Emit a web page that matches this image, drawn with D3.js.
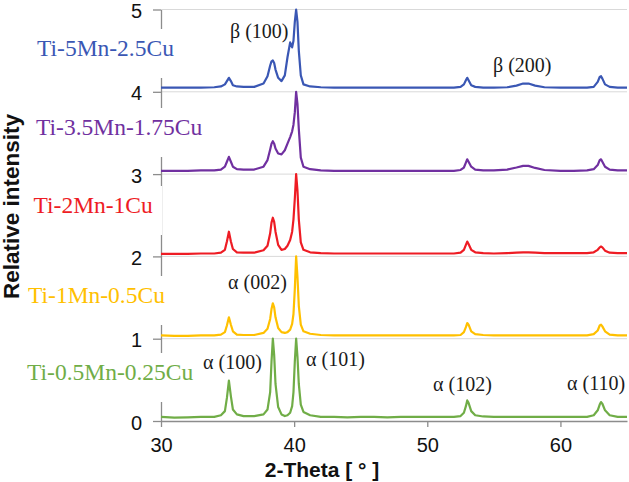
<!DOCTYPE html>
<html>
<head>
<meta charset="utf-8">
<script src="https://cdn.jsdelivr.net/npm/d3@7"></script>
<style>
  html, body { margin: 0; padding: 0; background: #fff; }
  svg { display: block; }
</style>
</head>
<body>
<svg id="chart" width="629" height="482"></svg>
<script>
// ---------- DATA ----------
const twoTheta = [30, 31, 32, 33, 34, 34.5, 34.8, 34.95, 35.1, 35.25, 35.4, 35.7, 36.2,
  37, 37.7, 38.0, 38.2, 38.3, 38.4, 38.5, 38.6, 38.8,
  39.05, 39.3, 39.5, 39.7, 39.85, 39.95, 40.05, 40.15, 40.25, 40.35, 40.5, 40.7,
  41.2, 42, 43, 44, 45, 46, 47, 48, 49, 50, 51, 52,
  52.5, 52.75, 52.9, 53.0, 53.1, 53.3, 53.6, 54.2,
  55, 56, 56.7, 57.2, 57.6, 58.1, 58.8,
  60, 61, 62, 62.5, 62.8, 62.95, 63.05, 63.15, 63.35, 63.7, 64.3, 65];

const ti05Mn = [0.05, 0.04, 0.045, 0.05, 0.05, 0.07, 0.12, 0.28, 0.49, 0.3, 0.14, 0.08, 0.06,
  0.06, 0.08, 0.14, 0.35, 0.72, 1.0, 0.8, 0.45, 0.17,
  0.08, 0.06, 0.07, 0.1, 0.18, 0.35, 0.72, 1.0, 0.78, 0.45, 0.2, 0.11,
  0.07, 0.05, 0.05, 0.045, 0.05, 0.05, 0.045, 0.05, 0.05, 0.05, 0.05, 0.05,
  0.06, 0.1, 0.18, 0.25, 0.22, 0.12, 0.07, 0.055,
  0.05, 0.05, 0.05, 0.05, 0.05, 0.05, 0.05,
  0.05, 0.05, 0.05, 0.07, 0.13, 0.2, 0.23, 0.21, 0.13, 0.07, 0.05, 0.05];

const ti1Mn = [1.04, 1.035, 1.035, 1.04, 1.04, 1.05, 1.08, 1.16, 1.26, 1.17, 1.09, 1.05, 1.045,
  1.045, 1.07, 1.12, 1.24, 1.36, 1.43, 1.38, 1.26, 1.13,
  1.08, 1.07, 1.08, 1.11, 1.18, 1.3, 1.6, 2.0, 1.75, 1.4, 1.17, 1.09,
  1.06, 1.045, 1.04, 1.04, 1.04, 1.04, 1.04, 1.04, 1.04, 1.04, 1.04, 1.04,
  1.045, 1.08, 1.14, 1.19, 1.17, 1.09, 1.055, 1.045,
  1.04, 1.04, 1.04, 1.04, 1.04, 1.04, 1.04,
  1.04, 1.04, 1.04, 1.055, 1.1, 1.16, 1.17, 1.15, 1.09, 1.05, 1.04, 1.04];

const ti2Mn = [2.03, 2.03, 2.03, 2.035, 2.035, 2.045, 2.08, 2.18, 2.3, 2.18, 2.09, 2.05, 2.045,
  2.045, 2.075, 2.13, 2.28, 2.41, 2.47, 2.42, 2.3, 2.14,
  2.08, 2.09, 2.13, 2.2, 2.3, 2.45, 2.7, 3.0, 2.8, 2.45, 2.17, 2.08,
  2.05, 2.04, 2.035, 2.035, 2.035, 2.035, 2.035, 2.035, 2.035, 2.035, 2.035, 2.035,
  2.045, 2.08, 2.14, 2.18, 2.15, 2.08, 2.05, 2.04,
  2.035, 2.04, 2.045, 2.05, 2.05, 2.045, 2.04,
  2.04, 2.04, 2.04, 2.05, 2.08, 2.11, 2.12, 2.11, 2.07, 2.045, 2.04, 2.04];

const ti35Mn = [3.04, 3.04, 3.04, 3.045, 3.045, 3.055, 3.09, 3.15, 3.21, 3.15, 3.09, 3.06, 3.055,
  3.055, 3.09, 3.17, 3.3, 3.37, 3.4, 3.37, 3.31, 3.25,
  3.24, 3.29, 3.37, 3.45, 3.52, 3.6, 3.75, 4.0, 3.85, 3.55, 3.2, 3.09,
  3.06, 3.045, 3.04, 3.04, 3.04, 3.04, 3.04, 3.04, 3.04, 3.04, 3.04, 3.04,
  3.05, 3.08, 3.14, 3.18, 3.15, 3.09, 3.055, 3.045,
  3.045, 3.055, 3.08, 3.1, 3.1, 3.075, 3.05,
  3.04, 3.04, 3.045, 3.06, 3.11, 3.17, 3.18, 3.15, 3.09, 3.055, 3.045, 3.045];

const ti5Mn = [4.05, 4.05, 4.05, 4.05, 4.055, 4.065, 4.09, 4.13, 4.17, 4.13, 4.08, 4.065, 4.06,
  4.06, 4.1, 4.19, 4.32, 4.37, 4.38, 4.35, 4.27, 4.17,
  4.13, 4.2, 4.42, 4.6, 4.54, 4.62, 4.85, 5.0, 4.85, 4.5, 4.2, 4.09,
  4.065, 4.055, 4.05, 4.05, 4.05, 4.05, 4.05, 4.05, 4.05, 4.05, 4.05, 4.05,
  4.06, 4.09, 4.14, 4.17, 4.14, 4.08, 4.06, 4.05,
  4.05, 4.055, 4.075, 4.1, 4.1, 4.075, 4.055,
  4.05, 4.05, 4.05, 4.06, 4.12, 4.18, 4.19, 4.16, 4.09, 4.06, 4.05, 4.05];

const seriesNames = ["Ti-0.5Mn-0.25Cu", "Ti-1Mn-0.5Cu", "Ti-2Mn-1Cu", "Ti-3.5Mn-1.75Cu", "Ti-5Mn-2.5Cu"];
const seriesValues = [ti05Mn, ti1Mn, ti2Mn, ti35Mn, ti5Mn];
const seriesColors = ["#70ad47", "#ffc000", "#ee1c24", "#7030a0", "#3a57b4"];

const xTicks = [30, 40, 50, 60];
const yTicks = [0, 1, 2, 3, 4, 5];

const peakLabels = ["β (100)", "β (200)", "α (002)", "α (100)", "α (101)", "α (102)", "α (110)"];

// ---------- LAYOUT ----------
const svg = d3.select("#chart");
const x = d3.scaleLinear().domain([30, 65]).range([161, 627]);
const y = d3.scaleLinear().domain([0, 5]).range([421, 9.5]);
const axisColor = "#8c8c8c";

// gridlines
svg.append("g").selectAll("line").data(yTicks.filter(d => d > 0)).join("line")
  .attr("x1", x(30)).attr("x2", x(65))
  .attr("y1", d => y(d)).attr("y2", d => y(d))
  .attr("stroke", "#d9d9d9").attr("stroke-width", 1);

// y axis
const gy = svg.append("g").attr("transform", `translate(${x(30)},0)`)
  .call(d3.axisLeft(y).tickValues(yTicks).tickFormat(d3.format("d")).tickSize(8).tickPadding(11).tickSizeOuter(0));
gy.select(".domain").attr("stroke", axisColor).attr("stroke-width", 1.3);
gy.selectAll(".tick line").attr("stroke", axisColor).attr("stroke-width", 1.3);
gy.selectAll(".tick text").attr("font-family", "Liberation Sans, Arial, sans-serif").attr("font-size", 20)
  .attr("dy", "0.4em").attr("fill", "#111");

// x axis
const gx = svg.append("g").attr("transform", `translate(0,${y(0)})`)
  .call(d3.axisBottom(x).tickValues(xTicks).tickFormat(d3.format("d")).tickSize(6).tickPadding(11).tickSizeOuter(0));
gx.select(".domain").attr("stroke", axisColor).attr("stroke-width", 1.3);
gx.selectAll(".tick line").attr("stroke", axisColor).attr("stroke-width", 1.3);
gx.selectAll(".tick text").attr("font-family", "Liberation Sans, Arial, sans-serif").attr("font-size", 20).attr("fill", "#111");

// axis titles
svg.append("text").attr("x", 322).attr("y", 477).attr("text-anchor", "middle")
  .attr("font-family", "Liberation Sans, Arial, sans-serif").attr("font-weight", "bold").attr("font-size", 21)
  .attr("fill", "#111").text("2-Theta [ ° ]");
svg.append("text").attr("transform", "translate(18.5,206.5) rotate(-90)").attr("text-anchor", "middle")
  .attr("font-family", "Liberation Sans, Arial, sans-serif").attr("font-weight", "bold").attr("font-size", 22.5)
  .attr("fill", "#111").text("Relative intensity");

// series labels (with white boxes, as in the reference)
const labelPos = [[27, 380], [28, 303], [33.5, 213], [36, 135], [37, 56]];
const labelG = svg.append("g");
seriesNames.forEach((name, i) => {
  const [lx, ly] = labelPos[i];
  const rect = labelG.append("rect").attr("fill", "#fff");
  const t = labelG.append("text").attr("x", lx).attr("y", ly)
    .attr("font-family", "Liberation Serif, Times New Roman, serif").attr("font-size", 23.5)
    .attr("fill", seriesColors[i]).text(name);
  const w = t.node().getComputedTextLength();
  rect.attr("x", lx - 4).attr("y", ly - 27).attr("height", 49)
    .attr("width", Math.max(w + 8, 166 - lx));
});

// series lines
const line = d3.line().x((d, i) => x(twoTheta[i])).y(d => y(d));
svg.append("g").selectAll("path").data(seriesValues).join("path")
  .attr("d", d => line(d))
  .attr("fill", "none")
  .attr("stroke", (d, i) => seriesColors[i])
  .attr("stroke-width", 2.2)
  .attr("stroke-linejoin", "round");

// peak annotations
const peakPos = [[230, 37.5], [493, 72], [228, 288.5], [203, 368.5], [306, 366], [433, 391], [567, 389.5]];
svg.append("g").selectAll("text").data(peakLabels).join("text")
  .attr("x", (d, i) => peakPos[i][0]).attr("y", (d, i) => peakPos[i][1])
  .attr("font-family", "Liberation Serif, Times New Roman, serif").attr("font-size", 20)
  .attr("fill", "#1a1a1a").text(d => d);
</script>
</body>
</html>
